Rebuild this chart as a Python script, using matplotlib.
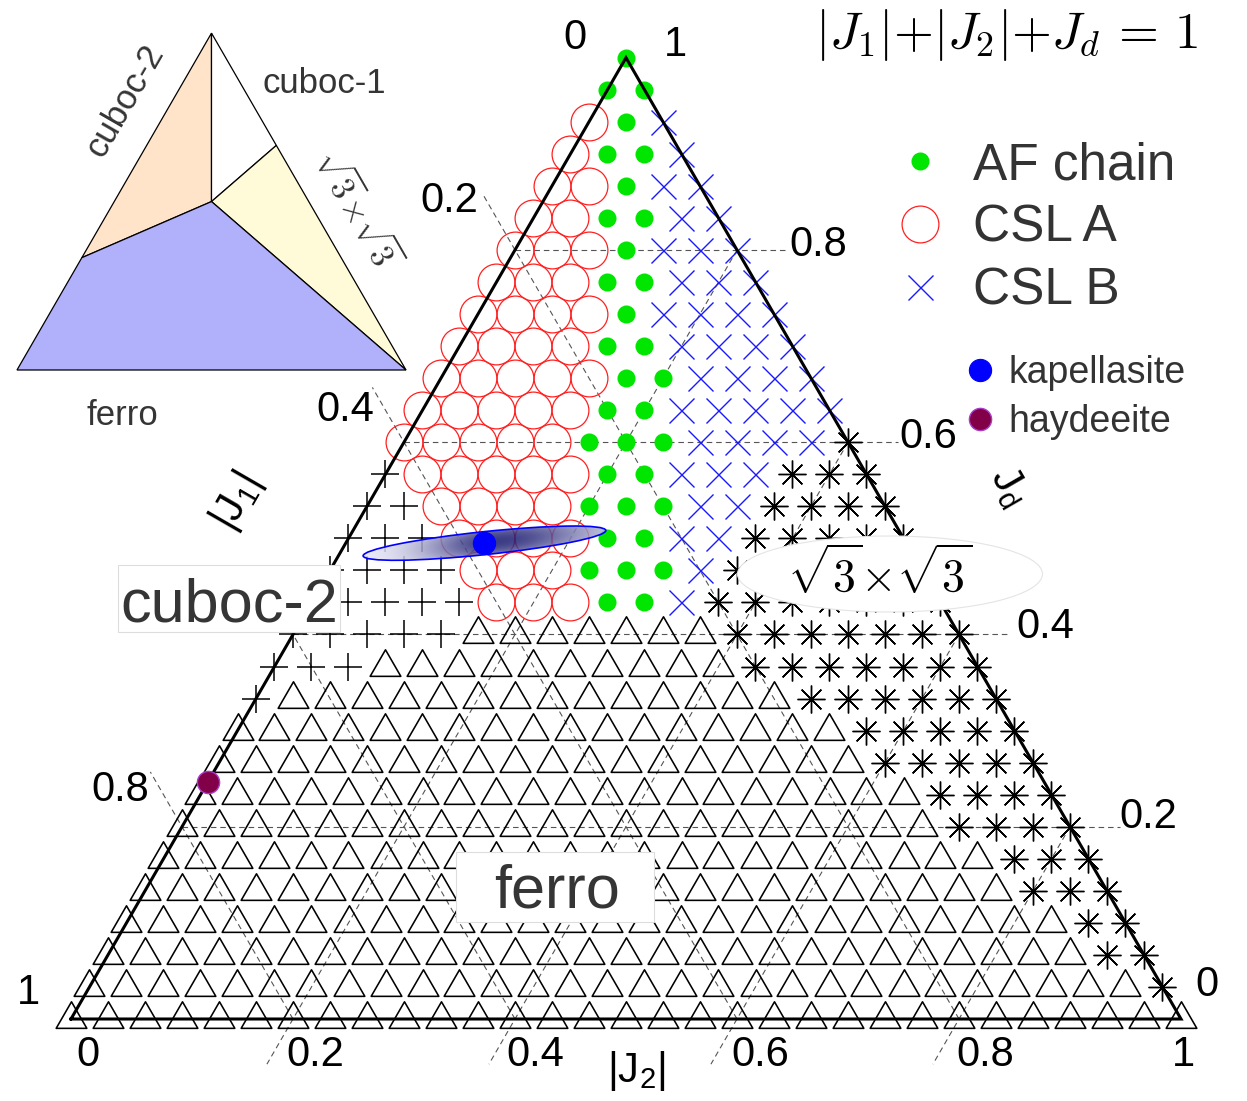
import numpy as np
import matplotlib
matplotlib.use("Agg")
import matplotlib.pyplot as plt
import matplotlib.transforms as mtransforms
from matplotlib.path import Path
from matplotlib.patches import Polygon, Ellipse, Rectangle

plt.rcParams["font.family"] = ["Liberation Sans", "DejaVu Sans"]

# ---------------------------------------------------------------- data
N_STEPS = 30  # |J1|, |J2|, Jd sampled in steps of 1/30

# Ground state on the grid, as runs of (phase, count) for each row.
# Row r counts down from the apex (Jd = 1 - r/30); inside a row the
# position k runs from the left edge (|J2| = k/30, |J1| = (r-k)/30).
# A = AF chain, C = CSL A, B = CSL B, P = cuboc-2, F = ferro, S = sqrt3 x sqrt3
phase_runs = [
    [("A", 1)],
    [("A", 2)],
    [("C", 1), ("A", 1), ("B", 1)],
    [("C", 1), ("A", 2), ("B", 1)],
    [("C", 2), ("A", 1), ("B", 2)],
    [("C", 2), ("A", 2), ("B", 2)],
    [("C", 3), ("A", 1), ("B", 3)],
    [("C", 3), ("A", 2), ("B", 3)],
    [("C", 4), ("A", 1), ("B", 4)],
    [("C", 4), ("A", 2), ("B", 4)],
    [("C", 5), ("A", 2), ("B", 4)],
    [("C", 5), ("A", 2), ("B", 5)],
    [("C", 5), ("A", 3), ("B", 4), ("S", 1)],
    [("P", 1), ("C", 5), ("A", 2), ("B", 3), ("S", 3)],
    [("P", 2), ("C", 4), ("A", 3), ("B", 2), ("S", 4)],
    [("P", 3), ("C", 4), ("A", 2), ("B", 2), ("S", 5)],
    [("P", 4), ("C", 3), ("A", 3), ("B", 1), ("S", 6)],
    [("P", 5), ("C", 3), ("A", 2), ("B", 1), ("S", 7)],
    [("P", 5), ("F", 7), ("S", 7)],
    [("P", 3), ("F", 10), ("S", 7)],
    [("P", 1), ("F", 14), ("S", 6)],
    [("F", 17), ("S", 5)],
    [("F", 18), ("S", 5)],
    [("F", 20), ("S", 4)],
    [("F", 21), ("S", 4)],
    [("F", 23), ("S", 3)],
    [("F", 24), ("S", 3)],
    [("F", 26), ("S", 2)],
    [("F", 27), ("S", 2)],
    [("F", 29), ("S", 1)],
    [("F", 31)],
]
legend_phases = ["A", "C", "B"]
legend_names = ["AF chain", "CSL A", "CSL B"]

# materials: (|J1|, |J2|, Jd) normalised to |J1|+|J2|+Jd = 1
materials = ["kapellasite", "haydeeite"]
mat_J1 = [0.380, 0.753]
mat_J2 = [0.125, 0.000]
mat_Jd = [0.495, 0.247]

tick_values = [0.0, 0.2, 0.4, 0.6, 0.8, 1.0]
tick_labels = ["0", "0.2", "0.4", "0.6", "0.8", "1"]
grid_values = [0.2, 0.4, 0.6, 0.8]

# classical phase diagram (inset): corners of each region as (|J1|, |J2|, Jd)
classical_regions = {
    "cuboc-2": [(0, 0, 1), (1/4, 1/4, 1/2), (2/3, 0, 1/3)],
    "cuboc-1": [(0, 0, 1), (0, 1/3, 2/3), (1/4, 1/4, 1/2)],
    "sqrt3":   [(0, 1/3, 2/3), (0, 1, 0), (1/4, 1/4, 1/2)],
    "ferro":   [(2/3, 0, 1/3), (1/4, 1/4, 1/2), (0, 1, 0), (1, 0, 0)],
}
classical_colors = {"cuboc-2": "#ffe4ca", "cuboc-1": "#ffffff",
                    "sqrt3": "#fffad8", "ferro": "#b0b0fb"}


def tern(j1, j2, jd):
    """Barycentric (|J1|, |J2|, Jd) -> Cartesian; |J1| corner at the origin."""
    j1, j2, jd = (np.asarray(v, dtype=float) for v in (j1, j2, jd))
    s = j1 + j2 + jd
    return (j2 + 0.5 * jd) / s, (np.sqrt(3) / 2) * jd / s


# ---------------------------------------------------------------- figure
W, H = 1247, 1101
fig = plt.figure(figsize=(W / 100, H / 100), dpi=100)
SIDE, OX, OY = 1110.0, 71.0, 1019.0      # triangle side and left corner, in pixels
ax = fig.add_axes([0, 0, 1, 1])
ax.set_xlim(-OX / SIDE, (W - OX) / SIDE)
ax.set_ylim(-(H - OY) / SIDE, OY / SIDE)
ax.axis("off")


def px(x, y):
    """Pixel position (from the top-left corner) -> data coordinates."""
    return (x - OX) / SIDE, (OY - y) / SIDE


def shifted(dx, dy):
    """Data transform shifted by (dx, dy) pixels, dy pointing down."""
    return mtransforms.offset_copy(ax.transData, fig=fig, x=dx, y=-dy, units="dots")


# ---- dashed grid, each family extended past one edge toward its labels
grid_kw = dict(color="#555555", lw=0.8, ls=(0, (5, 3.5)), zorder=1, clip_on=False)
for v in grid_values:
    # Jd = v, horizontal, runs out past the right edge
    a = np.array(tern(1 - v, 0, v)); b = np.array(tern(0, 1 - v, v))
    d = (b - a) / np.linalg.norm(b - a)
    e = b + 0.045 * d
    ax.plot([a[0], e[0]], [a[1], e[1]], **grid_kw)
    # |J1| = v, runs out past the left edge
    a = np.array(tern(v, 1 - v, 0)); b = np.array(tern(v, 0, 1 - v))
    d = (b - a) / np.linalg.norm(b - a)
    e = b + 0.057 * d
    ax.plot([a[0], e[0]], [a[1], e[1]], **grid_kw)
    # |J2| = v, runs out past the bottom edge
    a = np.array(tern(0, v, 1 - v)); b = np.array(tern(1 - v, v, 0))
    d = (b - a) / np.linalg.norm(b - a)
    e = b + 0.047 * d
    ax.plot([a[0], e[0]], [a[1], e[1]], **grid_kw)

# ---- phase markers
tri_marker = Path([(0, 0.5774), (-0.5, -0.2887), (0.5, -0.2887), (0, 0.5774)],
                  [Path.MOVETO, Path.LINETO, Path.LINETO, Path.CLOSEPOLY])
phase_styles = {
    "A": dict(marker="o", ms=13, mfc="#00e600", mec="none"),
    "C": dict(marker="o", ms=26.5, mfc="none", mec="#ff2020", mew=0.9),
    "B": dict(marker="x", ms=18, mfc="none", mec="#1a1aff", mew=1.0),
    "P": dict(marker="+", ms=19.5, mfc="none", mec="black", mew=1.1),
    "F": dict(marker=tri_marker, ms=25.5, mfc="none", mec="black", mew=1.15),
    "S": dict(marker=(8, 2, 0), ms=20, mfc="none", mec="black", mew=1.0),
}
pts = {c: ([], [], []) for c in phase_styles}
for r, runs in enumerate(phase_runs):
    k = 0
    for code, count in runs:
        for _ in range(count):
            pts[code][0].append((r - k) / N_STEPS)
            pts[code][1].append(k / N_STEPS)
            pts[code][2].append(1 - r / N_STEPS)
            k += 1
    assert k == r + 1
phase_lines = {}
for code, (j1, j2, jd) in pts.items():
    x, y = tern(j1, j2, jd)
    (phase_lines[code],) = ax.plot(x, y, ls="none", zorder=3, clip_on=False,
                                   **phase_styles[code])

# ---- triangle outline
cx, cy = tern([1, 0, 0, 1], [0, 1, 0, 0], [0, 0, 1, 0])
ax.plot(cx, cy, color="black", lw=2.2, zorder=5, clip_on=False,
        solid_joinstyle="miter")

# ---- kapellasite: shaded uncertainty ellipse around the point
kx, ky = tern(mat_J1[0], mat_J2[0], mat_Jd[0])
kx, ky = float(kx), float(ky)
ea, eb, eang = 122 / SIDE, 11.5 / SIDE, 6.0
xs = np.linspace(kx - 0.12, kx + 0.12, 500)
ys = np.linspace(ky - 0.03, ky + 0.03, 140)
X, Y = np.meshgrid(xs, ys)
th = np.deg2rad(eang)
U = ((X - kx) * np.cos(th) + (Y - ky) * np.sin(th)) / ea
V = (-(X - kx) * np.sin(th) + (Y - ky) * np.cos(th)) / eb
wid = np.where(U < 0.1, 0.6, 0.8)
t = np.exp(-((U - 0.1) / wid) ** 2) * np.clip(1 - 0.3 * V ** 2, 0, 1)
dark = np.array([0.10, 0.10, 0.44]); light = np.array([0.94, 0.94, 0.99])
rgb = light + (dark - light) * t[..., None]
rgba = np.dstack([rgb, np.full(t.shape, 0.85)])
im = ax.imshow(rgba, extent=(xs[0], xs[-1], ys[0], ys[-1]), origin="lower",
               zorder=4, interpolation="bilinear")
ell = Ellipse((kx, ky), 2 * ea, 2 * eb, angle=eang, fc="none", ec="#0000ff",
              lw=1.2, zorder=4.5)
ax.add_patch(ell)
im.set_clip_path(ell)
ax.set_aspect("auto")
ax.set_xlim(-OX / SIDE, (W - OX) / SIDE)
ax.set_ylim(-(H - OY) / SIDE, OY / SIDE)

mat_styles = [dict(mfc="#0000ff", mec="#0000ff", mew=0.8),
              dict(mfc="#820048", mec="#a93cc8", mew=1.0)]
mat_lines = []
for i, name in enumerate(materials):
    x, y = tern(mat_J1[i], mat_J2[i], mat_Jd[i])
    (ln,) = ax.plot([x], [y], ls="none", marker="o", ms=16, zorder=6,
                    clip_on=False, **mat_styles[i])
    mat_lines.append(ln)

# ---- tick labels (the |J1| = 0.6 label sits under the cuboc-2 tag)
tick_kw = dict(fontsize=30, color="black", ha="center", va="center", zorder=2)
j1_off = [(-51, -20), (-66, -49), (-59, -32), None, (-62, -37), (-43, -26)]
jd_off = [(26, -34), (78, -10), (86, -7), (80, -5), (81, -5), (49, -13)]
j2_off = [(17, 36), (22, 36), (20, 36), (23, 36), (26, 36), (2, 36)]
for v, lab, o1, od, o2 in zip(tick_values, tick_labels, j1_off, jd_off, j2_off):
    if o1 is not None:
        x, y = tern(v, 0, 1 - v)
        ax.text(x, y, lab, transform=shifted(*o1), **tick_kw)
    x, y = tern(0, 1 - v, v)
    ax.text(x, y, lab, transform=shifted(*od), **tick_kw)
    x, y = tern(1 - v, v, 0)
    ax.text(x, y, lab, transform=shifted(*o2), **tick_kw)

# ---- axis titles
ax.text(*px(636, 1071), r"$\mathregular{|J_2|}$", fontsize=30, ha="center", va="center")
ax.text(*px(237, 502), r"$\mathregular{|J_1|}$", fontsize=30, ha="center",
        va="center", rotation=60)
ax.text(*px(1009, 486), r"$\mathregular{J_d}$", fontsize=30, ha="center",
        va="center", rotation=-60)

ax.text(*px(815, 48), r"$|J_1|{+}|J_2|{+}J_d\,=\,1$", fontsize=37,
        math_fontfamily="cm", ha="left", va="baseline")

# ---- region labels
big = dict(color="#353535", fontsize=44, ha="center", va="baseline", zorder=8)
x0, y0 = px(118, 632); x1, y1 = px(340, 565)
ax.add_patch(Rectangle((x0, y0), x1 - x0, y1 - y0, fc="white", ec="#dddddd",
                       lw=0.8, zorder=7))
ax.text(*px(229, 621), "cuboc-2", **big)
x0, y0 = px(456, 922); x1, y1 = px(654, 852)
ax.add_patch(Rectangle((x0, y0), x1 - x0, y1 - y0, fc="white", ec="#dddddd",
                       lw=0.8, zorder=7))
ax.text(*px(557, 908), "ferro", **big)
sx, sy = px(890, 574)
ax.add_patch(Ellipse((sx, sy), 305 / SIDE, 76 / SIDE, fc="white", ec="#e4e4e4",
                     lw=0.8, zorder=7))
ax.text(*px(880, 575), r"$\sqrt{3}{\times}\sqrt{3}$", fontsize=33,
        math_fontfamily="cm", ha="center", va="center", zorder=8)

# ---- legends
leg1 = ax.legend([phase_lines[c] for c in legend_phases], legend_names,
                 loc="upper left", bbox_to_anchor=(904.6 / W, 1 - 141 / H),
                 bbox_transform=fig.transFigure, frameon=False, fontsize=37,
                 labelcolor="#333333", handlelength=0.6, handletextpad=0.73,
                 labelspacing=0.27, borderpad=0, borderaxespad=0, numpoints=1)
ax.add_artist(leg1)
ax.legend(mat_lines, materials, loc="upper left",
          bbox_to_anchor=(972.5 / W, 1 - 355 / H), bbox_transform=fig.transFigure,
          frameon=False, fontsize=27, labelcolor="#333333", handlelength=0.4,
          handletextpad=0.55, labelspacing=0.34, borderpad=0, borderaxespad=0,
          numpoints=1)

# ---- inset: classical phase diagram
IS, IX, IY = 389.0, 17.0, 370.0   # inset side and left corner, in pixels
L, R, T, B = 0, 430, 10, 445
axi = fig.add_axes([L / W, 1 - B / H, (R - L) / W, (B - T) / H])
axi.set_xlim((L - IX) / IS, (R - IX) / IS)
axi.set_ylim((IY - B) / IS, (IY - T) / IS)
axi.axis("off")


def ipx(x, y):
    return (x - IX) / IS, (IY - y) / IS


for name, corners in classical_regions.items():
    j1, j2, jd = zip(*corners)
    x, y = tern(j1, j2, jd)
    axi.add_patch(Polygon(np.column_stack([x, y]), closed=True,
                          fc=classical_colors[name], ec="black", lw=0.9))

small = dict(color="#353535", fontsize=25)
axi.text(*ipx(324, 93), "cuboc-1", ha="center", va="baseline", **small)
axi.text(*ipx(122, 425), "ferro", ha="center", va="baseline", **small)
axi.text(*ipx(125, 101), "cuboc-2", ha="center", va="center", rotation=60, **small)
axi.text(*ipx(357, 210), r"$\sqrt{3}{\times}\sqrt{3}$", ha="center", va="center",
         rotation=-60, math_fontfamily="cm", color="#353535", fontsize=24)

fig.savefig("out.png", dpi=100)
